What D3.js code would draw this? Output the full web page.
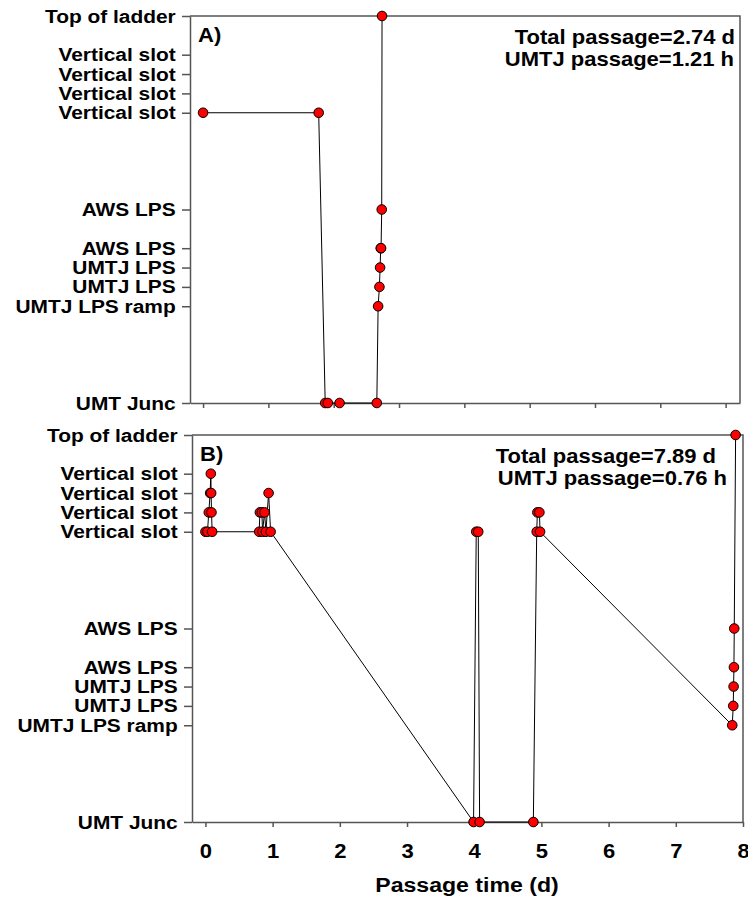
<!DOCTYPE html>
<html>
<head>
<meta charset="utf-8">
<script src="https://d3js.org/d3.v7.min.js"></script>
<style>
  body { margin: 0; background: #fff; }
  svg { display: block; }
  text { font-family: "Liberation Sans", Arial, sans-serif; font-weight: bold; fill: #000; }
</style>
</head>
<body>
<svg id="chart" width="748" height="909"></svg>
<script>
// Ladder locations (numeric position on the vertical axis) and their names
const levelValues = [0, 5, 6, 7, 8, 10, 15, 16, 17, 18, 20];
const levelLabels = ["UMT Junc", "UMTJ LPS ramp", "UMTJ LPS", "UMTJ LPS", "AWS LPS", "AWS LPS",
                     "Vertical slot", "Vertical slot", "Vertical slot", "Vertical slot", "Top of ladder"];
const dayTicks = [0, 1, 2, 3, 4, 5, 6, 7, 8];

// Fish A: passage time (d) and location level of each detection
const timeA  = [0.00, 1.77, 1.87, 1.91, 2.09, 2.66, 2.68, 2.70, 2.71, 2.72, 2.725, 2.735, 2.74];
const levelA = [15,   15,   0,    0,    0,    0,    5,    6,    7,    8,    8,     10,    20];

// Fish B: passage time (d) and location level of each detection
const timeB  = [0.00, 0.03, 0.05, 0.07, 0.08, 0.085, 0.09, 0.10,
                0.80, 0.81, 0.84, 0.85, 0.88, 0.90, 0.94, 0.97,
                3.99, 4.03, 4.06, 4.08, 4.88, 4.93, 4.94, 4.97, 4.98,
                7.84, 7.855, 7.86, 7.865, 7.87, 7.89];
const levelB = [15, 15, 16, 17, 18, 17, 16, 15,
                15, 16, 16, 15, 16, 15, 17, 15,
                0, 15, 15, 0, 0, 15, 16, 16, 15,
                5, 6, 7, 8, 10, 20];

const summaryA = ["Total passage=2.74 d", "UMTJ passage=1.21 h"];
const summaryB = ["Total passage=7.89 d", "UMTJ passage=0.76 h"];

const svg = d3.select("#chart");
const SX = 1.1;             // horizontal widening of the lettering
const frameColor = "#555";

function drawPanel(cfg) {
  const x = d3.scaleLinear().domain(cfg.xDomain).range([cfg.left, cfg.right]);
  const y = d3.scaleLinear().domain([0, 20]).range([cfg.bottom, cfg.top]);
  const g = svg.append("g");

  // frame: top and right edges
  g.append("path")
    .attr("d", `M${cfg.left},${cfg.top}H${cfg.right}V${cfg.bottom}`)
    .attr("fill", "none").attr("stroke", frameColor).attr("stroke-width", 1.5);

  // left axis with location names
  const ya = g.append("g").attr("transform", `translate(${cfg.left},0)`)
    .call(d3.axisLeft(y).tickValues(levelValues)
      .tickFormat((d, i) => levelLabels[i]).tickSize(8).tickPadding(5).tickSizeOuter(0));
  ya.selectAll("text").attr("font-size", 19).attr("transform", `scale(${SX},1)`);

  // bottom axis
  const xa = g.append("g").attr("transform", `translate(0,${cfg.bottom})`)
    .call(d3.axisBottom(x).tickValues(dayTicks).tickSize(5).tickPadding(17).tickSizeOuter(0)
      .tickFormat(cfg.showX ? d3.format("d") : () => ""));
  xa.selectAll("text").attr("font-size", 20).attr("transform", `scale(${SX},1)`);

  [ya, xa].forEach(a => {
    a.select(".domain").attr("stroke", frameColor).attr("stroke-width", 1.5);
    a.selectAll(".tick line").attr("stroke", frameColor).attr("stroke-width", 1.5);
  });

  // track line and detections
  const pts = cfg.times.map((t, i) => [t, cfg.levels[i]]);
  g.append("path").datum(pts)
    .attr("fill", "none").attr("stroke", "#000").attr("stroke-width", 1)
    .attr("d", d3.line().x(d => x(d[0])).y(d => y(d[1])));
  g.selectAll("circle").data(pts).join("circle")
    .attr("cx", d => x(d[0])).attr("cy", d => y(d[1])).attr("r", 4.8)
    .attr("fill", "#ff0000").attr("stroke", "#000").attr("stroke-width", 1);

  // panel letter
  g.append("g").attr("transform", `translate(${cfg.left + 8},${cfg.top + 26}) scale(${SX},1)`)
    .append("text").attr("font-size", 20).text(cfg.letter);

  // passage summary
  cfg.summary.forEach((s, i) => {
    g.append("g").attr("transform", `translate(${cfg.sumX[i]},${cfg.top + 28 + i * 22}) scale(${SX},1)`)
      .append("text").attr("font-size", 20).attr("text-anchor", "end").text(s);
  });
}

drawPanel({
  letter: "A)", left: 190, right: 740, top: 16, bottom: 403, xDomain: [-0.2, 8.22],
  times: timeA, levels: levelA, summary: summaryA, sumX: [735, 734], showX: false
});
drawPanel({
  letter: "B)", left: 192, right: 743, top: 435, bottom: 822, xDomain: [-0.2, 8.0],
  times: timeB, levels: levelB, summary: summaryB, sumX: [716, 727], showX: true
});

// x axis title
svg.append("g").attr("transform", `translate(467,892) scale(${SX},1)`)
  .append("text").attr("font-size", 21).attr("text-anchor", "middle").text("Passage time (d)");
</script>
</body>
</html>
